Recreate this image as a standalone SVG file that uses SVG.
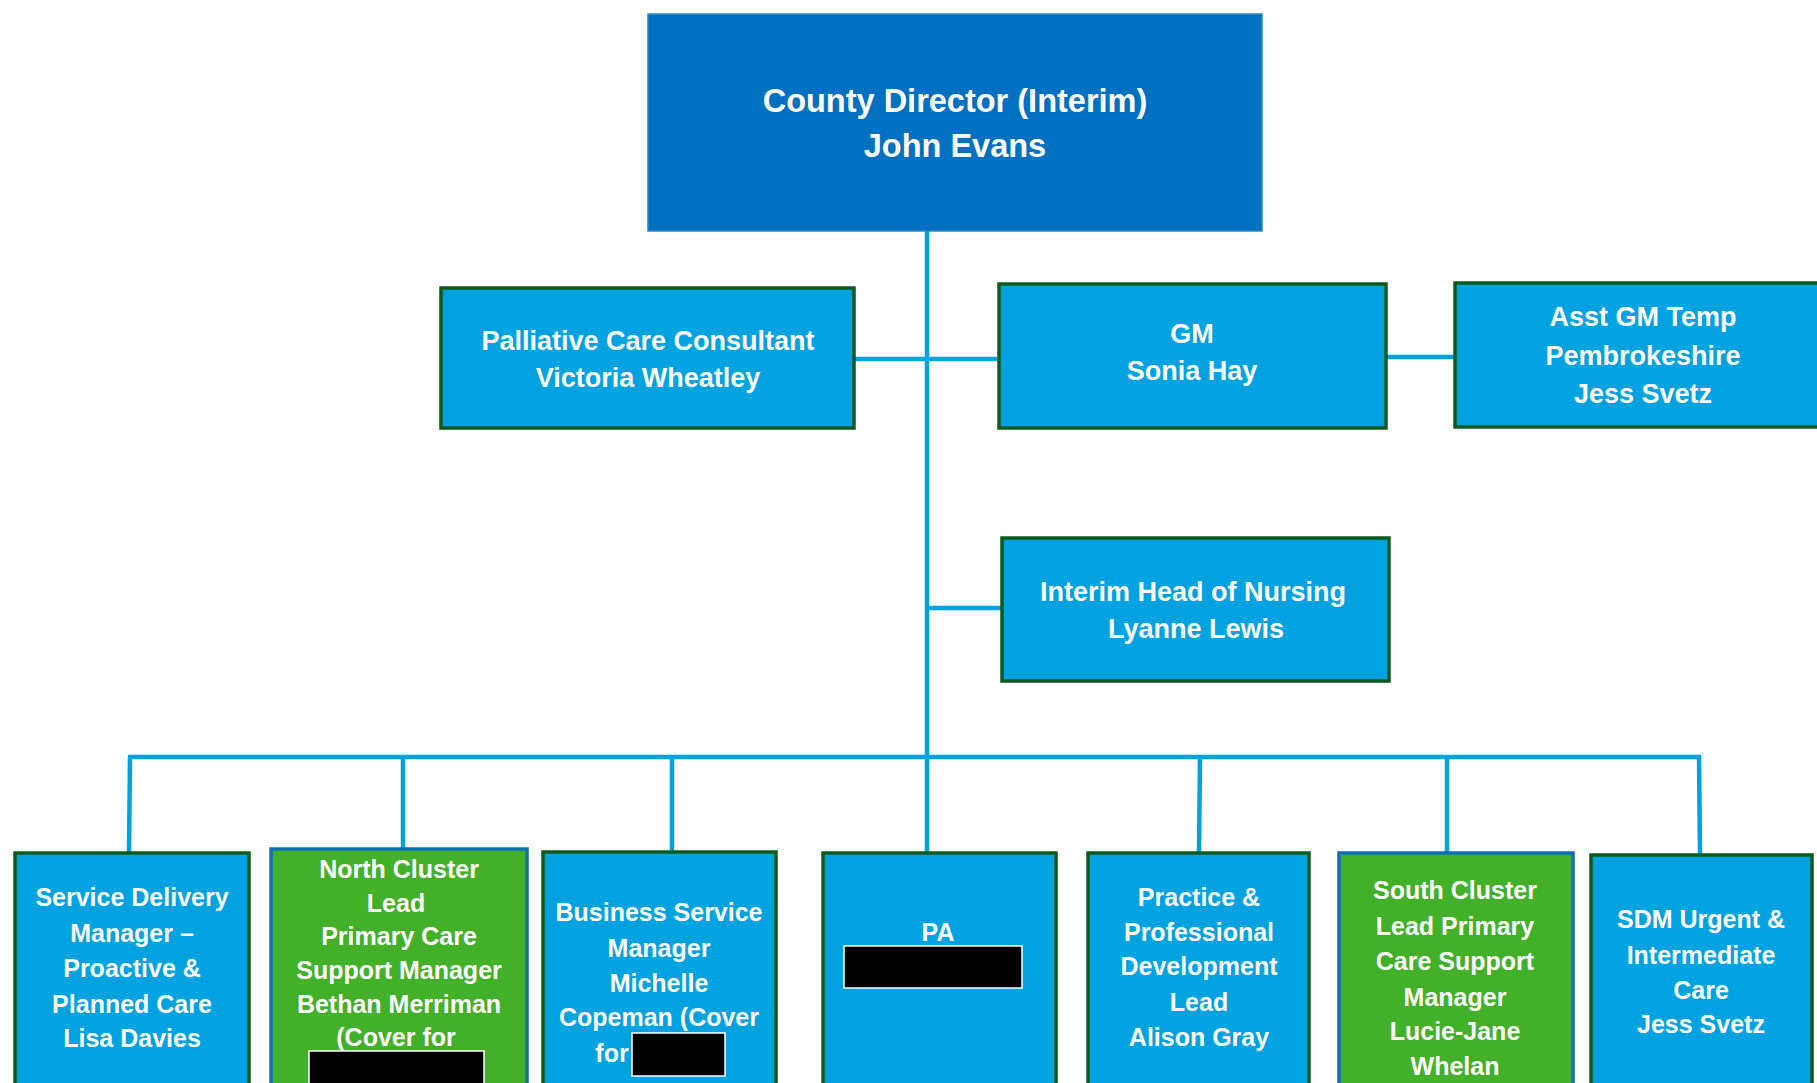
<svg xmlns="http://www.w3.org/2000/svg" width="1817" height="1083" viewBox="0 0 1817 1083">
<style>
.t{font-family:"Liberation Sans",Arial,sans-serif;font-weight:bold;fill:#fff;text-anchor:middle}
.blue{fill:#00A3E0;stroke:#0E5A1E;stroke-width:3.5}
.green{fill:#43B02A;stroke:#0F6FB5;stroke-width:3.5}
.red{fill:#000;stroke:#fff;stroke-width:1.5}
.c{stroke:#00A3E0;stroke-width:4.5;fill:none}
</style>
<rect width="1817" height="1083" fill="#fff"/>
<g id="connectors">
<line class="c" x1="927" y1="231" x2="927" y2="852"/>
<line class="c" x1="855" y1="359" x2="998" y2="359"/>
<line class="c" x1="1386" y1="357" x2="1454" y2="357"/>
<line class="c" x1="927" y1="608" x2="1001" y2="608"/>
<line class="c" x1="128" y1="757" x2="1701" y2="757"/>
<line class="c" x1="130" y1="757" x2="129" y2="852"/>
<line class="c" x1="403" y1="757" x2="403" y2="848"/>
<line class="c" x1="672" y1="757" x2="672" y2="851"/>
<line class="c" x1="1200" y1="757" x2="1199" y2="852"/>
<line class="c" x1="1447" y1="757" x2="1447" y2="852"/>
<line class="c" x1="1699" y1="757" x2="1700" y2="854"/>
</g>
<g id="n-director">
<rect x="648" y="14" width="614" height="217" fill="#0070C0" stroke="#2C86C4" stroke-width="1.5"/>
<text class="t" font-size="32.5" x="955" y="112">County Director (Interim)</text>
<text class="t" font-size="32.5" x="955" y="157">John Evans</text>
</g>
<g id="n-palliative">
<rect class="blue" x="441" y="288" width="413" height="140"/>
<text class="t" font-size="27" x="648" y="350">Palliative Care Consultant</text>
<text class="t" font-size="27" x="648" y="387">Victoria Wheatley</text>
</g>
<g id="n-gm">
<rect class="blue" x="999" y="284" width="387" height="144"/>
<text class="t" font-size="27" x="1192" y="343">GM</text>
<text class="t" font-size="27" x="1192" y="380">Sonia Hay</text>
</g>
<g id="n-asstgm">
<rect class="blue" x="1455" y="283" width="380" height="144"/>
<text class="t" font-size="27" x="1643" y="326">Asst GM Temp</text>
<text class="t" font-size="27" x="1643" y="365">Pembrokeshire</text>
<text class="t" font-size="27" x="1643" y="403">Jess Svetz</text>
</g>
<g id="n-nursing">
<rect class="blue" x="1002" y="538" width="387" height="143"/>
<text class="t" font-size="27" x="1193" y="601">Interim Head of Nursing</text>
<text class="t" font-size="27" x="1196" y="638">Lyanne Lewis</text>
</g>
<g id="n-sdm-proactive">
<rect class="blue" x="15" y="853" width="234" height="240"/>
<text class="t" font-size="25" x="132" y="906">Service Delivery</text>
<text class="t" font-size="25" x="132" y="942">Manager –</text>
<text class="t" font-size="25" x="132" y="977">Proactive &amp;</text>
<text class="t" font-size="25" x="132" y="1013">Planned Care</text>
<text class="t" font-size="25" x="132" y="1047">Lisa Davies</text>
</g>
<g id="n-north">
<rect class="green" x="271" y="849" width="256" height="244"/>
<text class="t" font-size="25" x="399" y="878">North Cluster</text>
<text class="t" font-size="25" x="396" y="912">Lead</text>
<text class="t" font-size="25" x="399" y="945">Primary Care</text>
<text class="t" font-size="25" x="399" y="979">Support Manager</text>
<text class="t" font-size="25" x="399" y="1013">Bethan Merriman</text>
<text class="t" font-size="25" x="396" y="1046">(Cover for</text>
<rect class="red" x="309" y="1051" width="175" height="40"/>
</g>
<g id="n-business">
<rect class="blue" x="543" y="852" width="233" height="241"/>
<text class="t" font-size="25" x="659" y="921">Business Service</text>
<text class="t" font-size="25" x="659" y="957">Manager</text>
<text class="t" font-size="25" x="659" y="992">Michelle</text>
<text class="t" font-size="25" x="659" y="1026">Copeman (Cover</text>
<text class="t" font-size="25" x="612" y="1062">for</text>
<rect class="red" x="632" y="1033" width="93" height="43"/>
</g>
<g id="n-pa">
<rect class="blue" x="823" y="853" width="233" height="240"/>
<text class="t" font-size="25" x="938" y="941">PA</text>
<rect class="red" x="844" y="946" width="178" height="42"/>
</g>
<g id="n-practice">
<rect class="blue" x="1088" y="853" width="221" height="240"/>
<text class="t" font-size="25" x="1199" y="906">Practice &amp;</text>
<text class="t" font-size="25" x="1199" y="941">Professional</text>
<text class="t" font-size="25" x="1199" y="975">Development</text>
<text class="t" font-size="25" x="1199" y="1011">Lead</text>
<text class="t" font-size="25" x="1199" y="1046">Alison Gray</text>
</g>
<g id="n-south">
<rect class="green" x="1339" y="853" width="234" height="240"/>
<text class="t" font-size="25" x="1455" y="899">South Cluster</text>
<text class="t" font-size="25" x="1455" y="935">Lead Primary</text>
<text class="t" font-size="25" x="1455" y="970">Care Support</text>
<text class="t" font-size="25" x="1455" y="1006">Manager</text>
<text class="t" font-size="25" x="1455" y="1040">Lucie-Jane</text>
<text class="t" font-size="25" x="1455" y="1075">Whelan</text>
</g>
<g id="n-sdm-urgent">
<rect class="blue" x="1591" y="855" width="221" height="238"/>
<text class="t" font-size="25" x="1701" y="928">SDM Urgent &amp;</text>
<text class="t" font-size="25" x="1701" y="964">Intermediate</text>
<text class="t" font-size="25" x="1701" y="999">Care</text>
<text class="t" font-size="25" x="1701" y="1033">Jess Svetz</text>
</g>
</svg>
